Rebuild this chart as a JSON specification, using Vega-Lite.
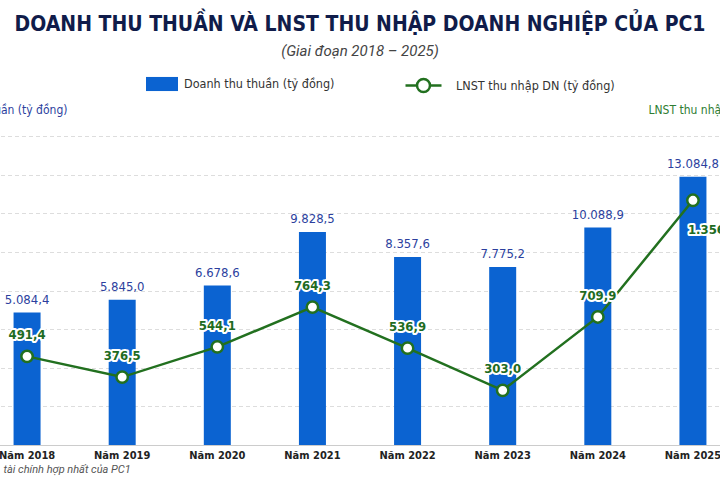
{
  "$schema": "https://vega.github.io/schema/vega-lite/v6.json",
  "width": 720,
  "height": 325,
  "autosize": "none",
  "padding": {"left": 0, "right": 0, "top": 120, "bottom": 35},
  "background": "white",
  "config": {
    "view": {"stroke": null},
    "font": "DejaVu Sans Condensed, Roboto",
    "locale": {"number": {"decimal": ",", "thousands": ".", "grouping": [3], "currency": ["", " ₫"]}}
  },
  "title": {
    "text": "DOANH THU THUẦN VÀ LNST THU NHẬP DOANH NGHIỆP CỦA PC1",
    "subtitle": "(Giai đoạn 2018 – 2025)",
    "font": "DejaVu Sans Condensed, Roboto",
    "fontSize": 21,
    "fontWeight": "bold",
    "color": "#101c4a",
    "subtitleFont": "Roboto",
    "subtitleFontSize": 15,
    "subtitleFontStyle": "italic",
    "subtitleColor": "#444444",
    "subtitlePadding": 9,
    "anchor": "middle",
    "frame": "group",
    "offset": 7
  },
  "data": {
    "values": [
      {"year": "Năm 2018", "revenue": 5084.4, "profit": 491.4},
      {"year": "Năm 2019", "revenue": 5845.0, "profit": 376.5},
      {"year": "Năm 2020", "revenue": 6678.6, "profit": 544.1},
      {"year": "Năm 2021", "revenue": 9828.5, "profit": 764.3},
      {"year": "Năm 2022", "revenue": 8357.6, "profit": 536.9},
      {"year": "Năm 2023", "revenue": 7775.2, "profit": 303.0},
      {"year": "Năm 2024", "revenue": 10088.9, "profit": 709.9},
      {"year": "Năm 2025", "revenue": 13084.8, "profit": 1356.5}
    ]
  },
  "encoding": {
    "x": {
      "field": "year",
      "type": "nominal",
      "sort": null,
      "scale": {"range": [-20.5, 740.5], "paddingInner": 0, "paddingOuter": 0},
      "axis": {
        "labelAngle": 0,
        "labelFont": "DejaVu Sans Condensed, Roboto",
        "labelFontSize": 11,
        "labelFontWeight": "bold",
        "labelColor": "#222222",
        "labelPadding": 4,
        "ticks": false,
        "domainColor": "#cccccc",
        "domainWidth": 1,
        "title": "tài chính hợp nhất của PC1",
        "titleFont": "Roboto",
        "titleFontSize": 11,
        "titleFontStyle": "italic",
        "titleFontWeight": "normal",
        "titleColor": "#555555",
        "titleAlign": "left",
        "titleAnchor": "start",
        "titleX": 3,
        "titleY": 24,
        "titleBaseline": "middle"
      }
    }
  },
  "layer": [
    {
      "layer": [
        {
          "mark": {"type": "bar", "width": 27},
          "encoding": {
            "y": {
              "field": "revenue",
              "type": "quantitative",
              "scale": {"domain": [-2708, 16421], "nice": false, "zero": false},
              "axis": {
                "orient": "left",
                "values": [-436, 1836, 4108, 6380, 8652, 10924, 13196, 15468],
                "labels": false,
                "ticks": false,
                "domain": false,
                "grid": true,
                "gridColor": "#dddddd",
                "gridDash": [4, 3],
                "gridWidth": 1,
                "title": "Doanh thu thuần (tỷ đồng)",
                "titleAngle": 0,
                "titleAlign": "right",
                "titleBaseline": "middle",
                "titleX": 67,
                "titleY": -11,
                "titleFont": "DejaVu Sans Condensed, Roboto",
                "titleFontSize": 12,
                "titleFontWeight": "normal",
                "titleColor": "#2c3f9e"
              }
            },
            "y2": {"datum": -2708},
            "color": {
              "datum": "Doanh thu thuần (tỷ đồng)",
              "scale": {"range": ["#0b63d1"]},
              "legend": {
                "orient": "none",
                "legendX": 146,
                "legendY": -52,
                "title": null,
                "padding": 0,
                "symbolType": "M-1,-0.44H1V0.44H-1Z",
                "symbolSize": 1024,
                "symbolStrokeWidth": 0,
                "labelOffset": 6,
                "labelLimit": 300,
                "labelFont": "DejaVu Sans Condensed, Roboto",
                "labelFontSize": 12.5,
                "labelColor": "#333333"
              }
            }
          }
        },
        {
          "mark": {"type": "text", "baseline": "bottom", "dy": -6, "fontSize": 13, "color": "#2c3f9e", "font": "DejaVu Sans Condensed, Roboto"},
          "encoding": {
            "y": {"field": "revenue", "type": "quantitative"},
            "text": {"field": "revenue", "type": "quantitative", "format": ",.1f"}
          }
        }
      ]
    },
    {
      "layer": [
        {
          "mark": {"type": "line", "strokeWidth": 2.5},
          "encoding": {
            "y": {
              "field": "profit",
              "type": "quantitative",
              "scale": {"domain": [0, 1801.6], "nice": false},
              "axis": {
                "orient": "right",
                "labels": false,
                "ticks": false,
                "domain": false,
                "grid": false,
                "title": "LNST thu nhập DN (tỷ đồng)",
                "titleAngle": 0,
                "titleAlign": "left",
                "titleBaseline": "middle",
                "titleX": -72,
                "titleY": -11,
                "titleFont": "DejaVu Sans Condensed, Roboto",
                "titleFontSize": 12,
                "titleFontWeight": "normal",
                "titleColor": "#2e7d32"
              }
            },
            "stroke": {
              "datum": "LNST thu nhập DN (tỷ đồng)",
              "scale": {"range": ["#22701f"]},
              "legend": {
                "orient": "none",
                "legendX": 404,
                "legendY": -54,
                "title": null,
                "padding": 0,
                "symbolType": "M-1,0H-0.36M0.36,0H1M0.36,0A0.36,0.36 0 1,1 -0.36,0A0.36,0.36 0 1,1 0.36,0Z",
                "symbolSize": 1296,
                "symbolStrokeWidth": 2.5,
                "symbolFillColor": "white",
                "labelOffset": 13,
                "labelLimit": 300,
                "labelFont": "DejaVu Sans Condensed, Roboto",
                "labelFontSize": 12.5,
                "labelColor": "#333333"
              }
            }
          }
        },
        {
          "mark": {"type": "point", "filled": true, "fill": "white", "stroke": "#22701f", "strokeWidth": 2.5, "size": 130, "opacity": 1},
          "encoding": {"y": {"field": "profit", "type": "quantitative"}}
        },
        {
          "transform": [{"filter": "datum.year != 'Năm 2025'"}],
          "mark": {"type": "text", "baseline": "middle", "dy": -21, "fontSize": 13, "fontWeight": "bold", "font": "DejaVu Sans Condensed, Roboto", "stroke": "white", "strokeWidth": 4, "strokeJoin": "round", "fill": "white"},
          "encoding": {
            "y": {"field": "profit", "type": "quantitative"},
            "text": {"field": "profit", "type": "quantitative", "format": ",.1f"}
          }
        },
        {
          "transform": [{"filter": "datum.year != 'Năm 2025'"}],
          "mark": {"type": "text", "baseline": "middle", "dy": -21, "fontSize": 13, "fontWeight": "bold", "font": "DejaVu Sans Condensed, Roboto", "fill": "#1e6b22"},
          "encoding": {
            "y": {"field": "profit", "type": "quantitative"},
            "text": {"field": "profit", "type": "quantitative", "format": ",.1f"}
          }
        },
        {
          "transform": [{"filter": "datum.year == 'Năm 2025'"}],
          "mark": {"type": "text", "baseline": "middle", "align": "left", "dx": -5, "dy": 30, "fontSize": 13, "fontWeight": "bold", "font": "DejaVu Sans Condensed, Roboto", "stroke": "white", "strokeWidth": 4, "strokeJoin": "round", "fill": "white"},
          "encoding": {
            "y": {"field": "profit", "type": "quantitative"},
            "text": {"field": "profit", "type": "quantitative", "format": ",.1f"}
          }
        },
        {
          "transform": [{"filter": "datum.year == 'Năm 2025'"}],
          "mark": {"type": "text", "baseline": "middle", "align": "left", "dx": -5, "dy": 30, "fontSize": 13, "fontWeight": "bold", "font": "DejaVu Sans Condensed, Roboto", "fill": "#1e6b22"},
          "encoding": {
            "y": {"field": "profit", "type": "quantitative"},
            "text": {"field": "profit", "type": "quantitative", "format": ",.1f"}
          }
        }
      ]
    }
  ],
  "resolve": {"scale": {"y": "independent", "color": "independent", "stroke": "independent"}}
}
